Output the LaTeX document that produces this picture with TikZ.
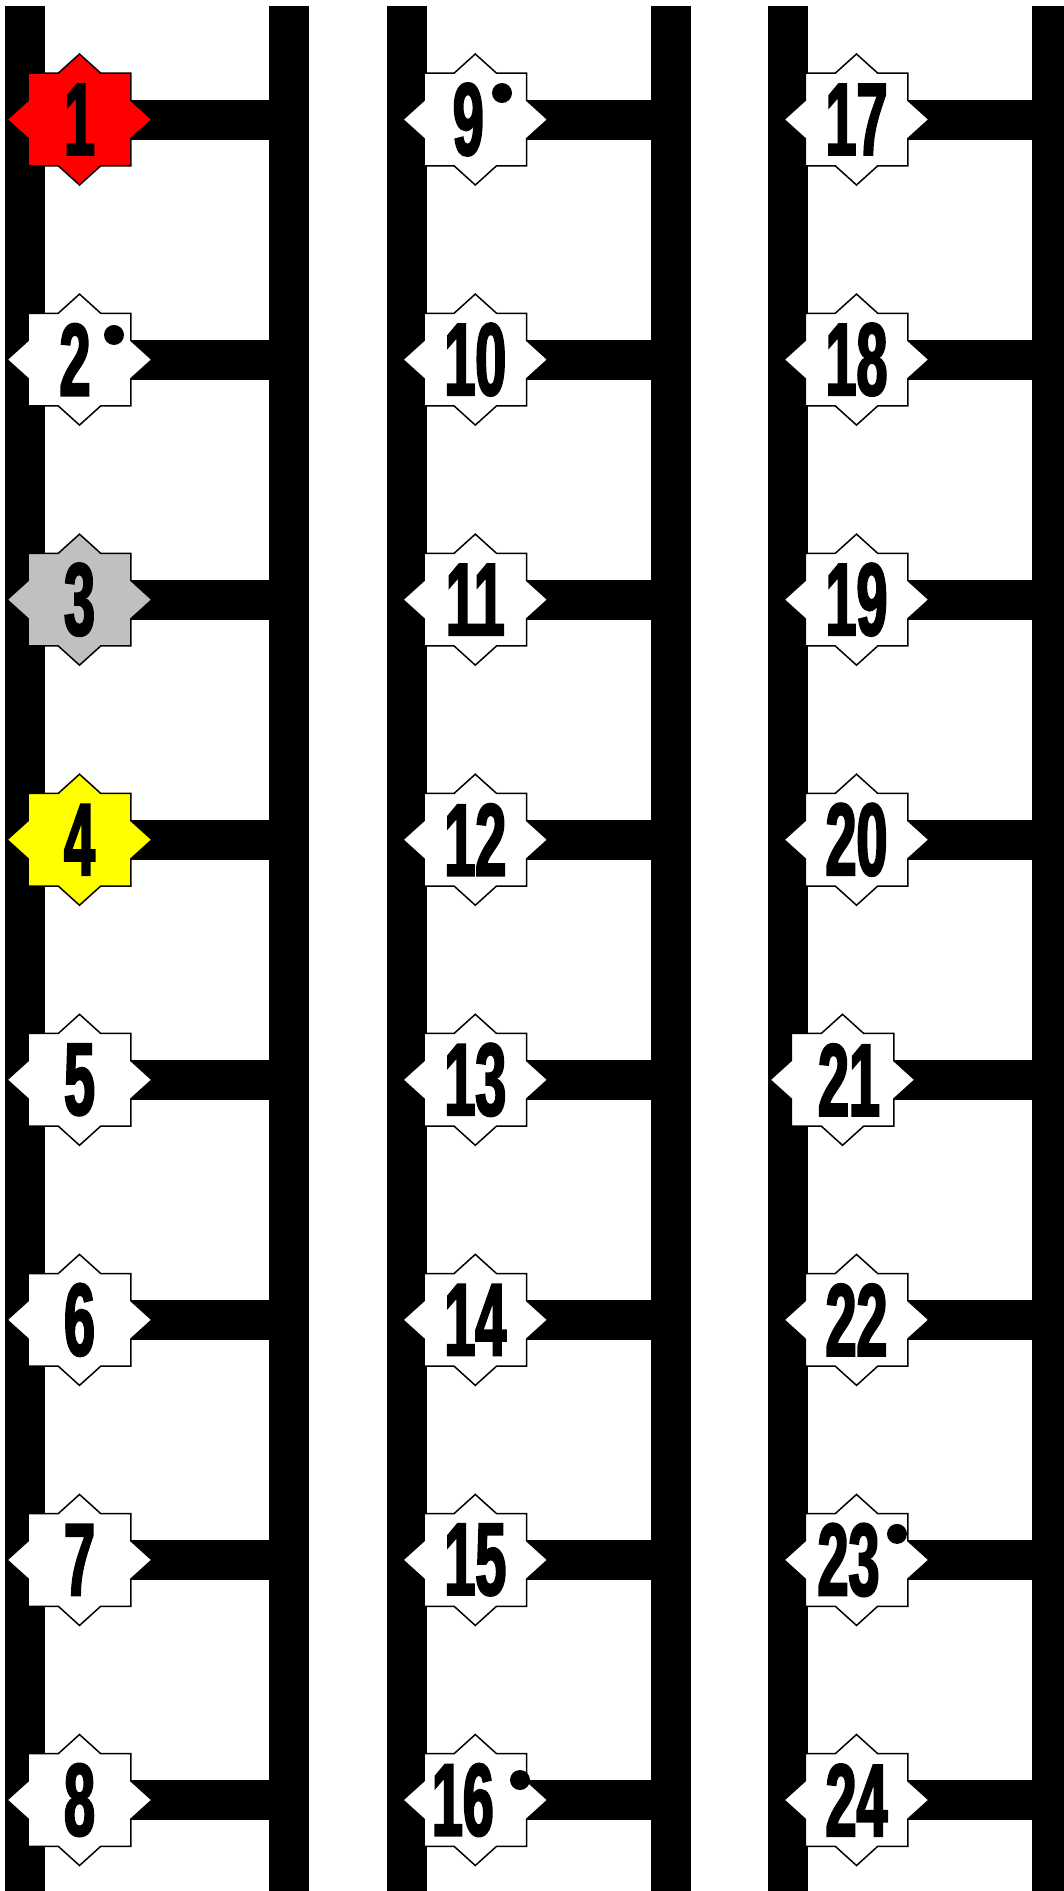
\documentclass[tikz,border=0pt]{standalone}
\usepackage{fontspec}
\newfontfamily\numfont[FakeStretch=0.54,FakeBold=2]{Liberation Sans}
\definecolor{badgegray}{HTML}{C0C0C0}
\definecolor{badgeyellow}{HTML}{FFFF00}
\newcommand{\starrx}{72.5}
\newcommand{\starry}{65.5}

\begin{document}
\begin{tikzpicture}[x=1pt,y=-1pt]
\tikzstyle{num}=[font=\numfont\bfseries\fontsize{103}{103}\selectfont,inner sep=0pt]
\tikzstyle{badge}=[draw=black,line width=1.5pt]
\tikzstyle{rung}=[line width=40pt]
\useasboundingbox (0,0) rectangle (1064,1891);
\clip (0,0) rectangle (1064,1891);
% rails
\foreach \lx [count=\i from 0] in {5,386.5,768}{
  \fill (\lx,5.5) rectangle ++(40,1886);
  \fill (\lx+264,5.5) rectangle ++(40,1886);
  \coordinate (rail\i) at (\lx+284,0);
}
% badges with rungs
\foreach \n/\fillc/\dx/\tx in {1/red/0/0, 2/white/0/-4.5, 3/badgegray/0/0, 4/badgeyellow/0/0,
    5/white/0/0, 6/white/0/0, 7/white/0/0, 8/white/0/0,
    9/white/0/-7, 10/white/0/0, 11/white/0/0, 12/white/0/0,
    13/white/0/0, 14/white/0/0, 15/white/0/0, 16/white/0/-12.5,
    17/white/0/0, 18/white/0/0, 19/white/0/0, 20/white/0/0,
    21/white/-14/6.5, 22/white/0/0, 23/white/0/-8, 24/white/0/0}{
  \pgfmathtruncatemacro{\col}{(\n-1)/8}
  \pgfmathtruncatemacro{\row}{mod(\n-1,8)}
  \pgfmathsetmacro{\cx}{{79.5,475.3,856.5}[\col]+\dx}
  \pgfmathsetmacro{\cy}{119.5+240.07*\row}
  \coordinate (c\n) at (\cx,\cy);
  \draw[rung] (c\n) -- (c\n -| rail\col);
  \filldraw[badge,fill=\fillc,shift={(c\n)},xscale=\starrx,yscale=\starry]
    (0,-1) -- (.293,-.707) -- (.707,-.707) -- (.707,-.293) -- (1,0)
    -- (.707,.293) -- (.707,.707) -- (.293,.707) -- (0,1)
    -- (-.293,.707) -- (-.707,.707) -- (-.707,.293) -- (-1,0)
    -- (-.707,-.293) -- (-.707,-.707) -- (-.293,-.707) -- cycle;
  \node[num] (s\n) at ([xshift=\tx pt]c\n) {\n};
}
% dots
\foreach \n/\ox/\oy in {2/34.5/-24.6, 9/26.7/-26.5, 16/44.7/-20, 23/40.5/-26}
  \fill ([shift={(\ox,\oy)}]c\n) circle (10pt);
\end{tikzpicture}
\end{document}
